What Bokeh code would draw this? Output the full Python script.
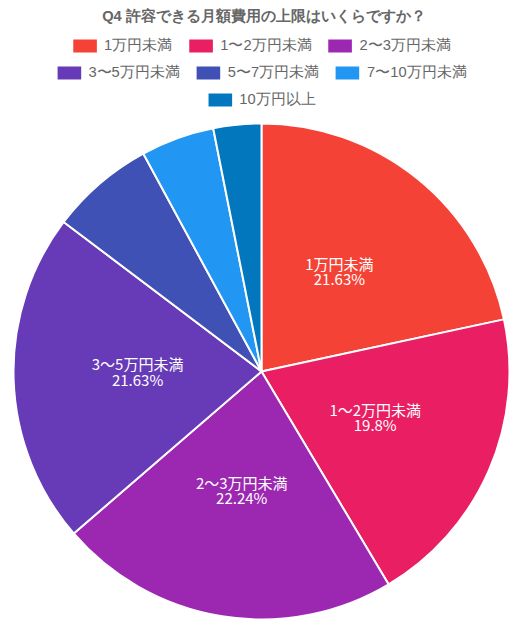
import math
from bokeh.plotting import figure
from bokeh.models import Range1d, Legend, LegendItem, Label, ColumnDataSource
from bokeh.core.properties import value
from bokeh.embed import file_html
from bokeh.resources import INLINE

title_text = "Q4 許容できる月額費用の上限はいくらですか？"
categories = ["1万円未満", "1〜2万円未満", "2〜3万円未満", "3〜5万円未満",
              "5〜7万円未満", "7〜10万円未満", "10万円以上"]
percents = [21.63, 19.8, 22.24, 21.63, 6.79, 4.79, 3.12]
colors = ["#f44336", "#e91e63", "#9c27b0", "#673ab7", "#3f51b5", "#2196f3", "#0277bd"]
legend_rows = [[0, 1, 2], [3, 4, 5], [6]]

W, H = 527, 625
RB = 8                      # right border, keeps legend rows centred like the original
FW = W - RB
CX, CY, R = 261, 254, 248

total = sum(percents)
starts, ends = [], []
acc = 0.0
for v in percents:
    a0 = math.pi / 2 - 2 * math.pi * acc / total
    acc += v
    a1 = math.pi / 2 - 2 * math.pi * acc / total
    starts.append(a0)
    ends.append(a1)

p = figure(width=W, height=H, x_range=Range1d(0, FW), y_range=Range1d(0, H),
           toolbar_location=None, output_backend="svg", min_border=0,
           min_border_right=RB)
p.axis.visible = False
p.grid.visible = False
p.outline_line_color = None
p.background_fill_color = "white"
p.border_fill_color = "white"

renderers = []
for i, cat in enumerate(categories):
    src = ColumnDataSource(dict(x=[CX], y=[CY], s=[starts[i]], e=[ends[i]]))
    r = p.wedge(x="x", y="y", radius=R, start_angle="s", end_angle="e",
                direction="clock", source=src, fill_color=colors[i],
                line_color="white", line_width=2)
    renderers.append(r)

# in-slice labels
lx, ly, lt = [], [], []
for i, cat in enumerate(categories):
    if percents[i] >= 10:
        mid = (starts[i] + ends[i]) / 2
        lx.append(CX + R / 2 * math.cos(mid))
        ly.append(CY + R / 2 * math.sin(mid))
        lt.append(f"{cat}\n{percents[i]}%")
p.text(x=lx, y=ly, text=lt, text_color="white", text_align="center",
       text_baseline="middle", text_font=value("Noto Sans CJK JP"),
       text_font_size="15px", text_line_height=0.72, y_offset=-4)

# title
p.add_layout(Label(x=W / 2, y=H - 15, x_units="screen", y_units="screen",
                   text=title_text, text_align="center", text_baseline="middle",
                   text_font="Liberation Sans", text_font_style="bold",
                   text_font_size="14.7px", text_color="#666666"))

# legends: three centered rows
for k, row in enumerate(legend_rows):
    items = [LegendItem(label=categories[i], renderers=[renderers[i]]) for i in row]
    leg = Legend(items=items, orientation="horizontal", location="top_center",
                 margin=36 + 27 * k, padding=0, spacing=12, label_standoff=4,
                 glyph_width=32, glyph_height=19, label_height=13,
                 label_text_font="Liberation Sans",
                 label_text_font_size="14.7px", label_text_color="#666666",
                 border_line_color=None, background_fill_alpha=0,
                 inactive_fill_alpha=0)
    p.add_layout(leg, "center")

open("out.html", "w").write(file_html(p, INLINE))
